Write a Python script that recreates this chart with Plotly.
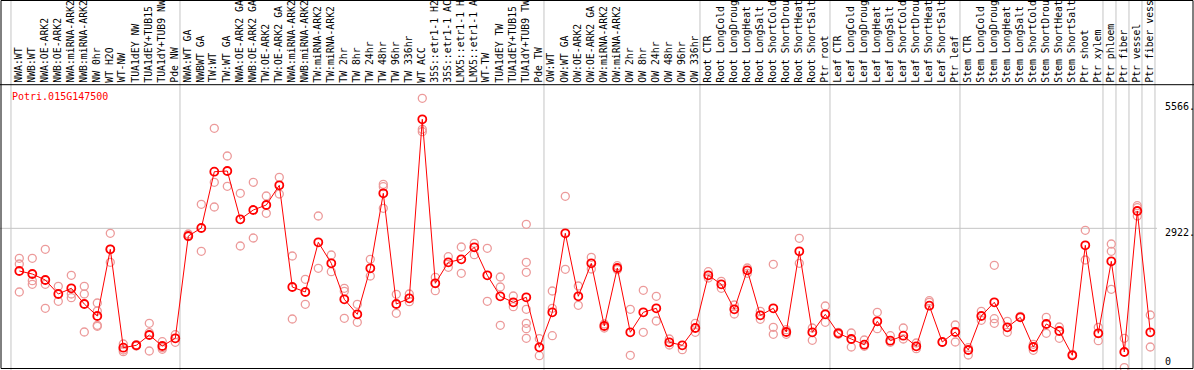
import plotly.graph_objects as go

title = "Potri.015G147500"

labels = [
    "NWA:WT", "NWB:WT", "NWA:OE-ARK2", "NWB:OE-ARK2", "NWA:miRNA-ARK2", "NWB:miRNA-ARK2",
    "NW 0hr", "WT H2O", "WT-NW", "TUA1dEY NW", "TUA1dEY+TUB15 NW", "TUA1dY+TUB9 NW", "Pde NW",
    "NWA:WT GA", "NWBWT GA", "TW:WT", "TW:WT GA", "NWA:OE-ARK2 GA", "NWB:OE-ARK2 GA",
    "TW:OE-ARK2", "TW:OE-ARK2 GA", "NWA:miRNA-ARK2", "NWB:miRNA-ARK2", "TW:miRNA-ARK2",
    "TW:miRNA-ARK2", "TW 2hr", "TW 8hr", "TW 24hr", "TW 48hr", "TW 96hr", "TW 336hr", "WT ACC",
    "35S::etr1-1 H2O", "35S::etr1-1 ACC", "LMX5::etr1-1 H2O", "LMX5::etr1-1 ACC", "WT-TW",
    "TUA1dEY TW", "TUA1dEY+TUB15 TW", "TUA1dY+TUB9 TW", "Pde TW",
    "OW:WT", "OW:WT GA", "OW:OE-ARK2", "OW:OE-ARK2 GA", "OW:miRNA-ARK2", "OW:miRNA-ARK2",
    "OW 2hr", "OW 8hr", "OW 24hr", "OW 48hr", "OW 96hr", "OW 336hr",
    "Root CTR", "Root LongCold", "Root LongDrought", "Root LongHeat", "Root LongSalt",
    "Root ShortCold", "Root ShortDrought", "Root ShortHeat", "Root ShortSalt", "Ptr root",
    "Leaf CTR", "Leaf LongCold", "Leaf LongDrought", "Leaf LongHeat", "Leaf LongSalt",
    "Leaf ShortCold", "Leaf ShortDrought", "Leaf ShortHeat", "Leaf ShortSalt", "Ptr leaf",
    "Stem CTR", "Stem LongCold", "Stem LongDrought", "Stem LongHeat", "Stem LongSalt",
    "Stem ShortCold", "Stem ShortDrought", "Stem ShortHeat", "Stem ShortSalt", "Ptr shoot",
    "Ptr xylem", "Ptr phloem", "Ptr fiber", "Ptr vessel", "Ptr fiber vessel",
]

group_breaks = [0, 13, 41, 53, 63, 73, 84, 85, 86, 87, 88]

means = [
    2027, 1964, 1838, 1544, 1664, 1334, 1083, 2482, 418, 468, 684, 453, 615,
    2761, 2929, 4110, 4125, 3112, 3307, 3412, 3825, 1691, 1586, 2629, 2188, 1433, 1118,
    2084, 3657, 1334, 1454, 5210, 1769, 2209, 2272, 2524, 1937, 1496, 1370, 1475, 426,
    1160, 2818, 1496, 2188, 873, 2090, 741, 1160, 1244, 531, 468, 831,
    1937, 1748, 1223, 2042, 1097, 1244, 747, 2440, 741, 1118,
    720, 600, 480, 971, 564, 669, 447, 1299, 537, 747,
    369, 1083, 1370, 846, 1055, 432, 915, 768, 258, 2566, 720,
    2230, 327, 3286, 741,
]

reps = [
    [2293, 2174, 1586], [2293, 1823, 1748], [2482, 1748, 1244], [1706, 1391],
    [1937, 1544, 1467], [1706, 1544, 747], [1355, 1188, 888, 867], [2818, 2482, 2209],
    [495, 369, 334], [480, 453], [929, 732, 348], [543, 418, 384], [690, 531],
    [2803, 2747], [3426, 2440], [5021, 3888, 3370], [4440, 3804], [3657, 2551],
    [3888, 2719], [3600, 3237], [3993, 3642], [2342, 1020], [1853, 1328], [3181, 2084],
    [2363, 2012], [1664, 1601, 1034], [1328, 950], [2272, 1922], [3846, 3796, 3342],
    [1538, 1139], [1544, 1383], [5650, 5000, 4950], [1895, 1614], [2327, 2104],
    [2530, 1979], [2608, 2369], [2503, 1391], [1901, 1691, 888], [1502, 1278],
    [3007, 2209, 2000, 1223, 929, 816, 615], [606, 250],
    [1607, 1244, 669], [3594, 2063], [1712, 1307], [2314, 2069], [915, 831],
    [2138, 2054], [1223, 258], [1622, 741], [1496, 978], [600, 474], [376], [929, 741],
    [2012, 1880], [1811, 1664], [1313, 1125], [2090, 1979], [1181, 1013],
    [2167, 846, 699], [795, 699], [2713, 2188], [831, 573], [1292, 950],
    [741, 699], [726, 432], [579, 447], [1160, 816], [669, 531], [831, 600], [516, 397],
    [1404, 1370], [531], [894, 537],
    [418, 264], [1181, 992], [2146, 1026, 929], [971, 741], [1076], [489, 363],
    [1055, 720], [852, 615], [279], [2881, 2258], [846, 564],
    [2593, 2440, 1643], [615, 0], [3397, 3355, 3181], [1104, 432],
]

tick_vals = [5566, 2922, 0]
tick_text = ["5566.", "2922.", "0"]

W, H = 1194, 370
MONO = "DejaVu Sans Mono"
MEAN_COLOR = "#ff0000"
REP_COLOR = "#ec9a9a"
MAX_LABEL_CHARS = 14  # the header band only has room for this many characters

xs = list(range(len(means)))
rep_x = [i for i, r in enumerate(reps) for _ in r]
rep_y = [v for r in reps for v in r]

fig = go.Figure()
fig.add_trace(go.Scatter(
    x=rep_x, y=rep_y, mode="markers",
    marker=dict(symbol="circle-open", size=8, color=REP_COLOR, line=dict(width=1.3, color=REP_COLOR)),
    hoverinfo="skip", showlegend=False,
))
fig.add_trace(go.Scatter(
    x=xs, y=means, mode="lines+markers",
    line=dict(color=MEAN_COLOR, width=1),
    marker=dict(symbol="circle-open", size=8, color=MEAN_COLOR, line=dict(width=1.8, color=MEAN_COLOR)),
    showlegend=False,
))

# pixel <-> data mapping helpers
px_per_col = 13.0
x_first_px = 19.3
xa = -x_first_px / px_per_col
xb = xa + W / px_per_col
y_zero_px = 367.6
px_per_unit = 0.04766
ya = (y_zero_px - H) / px_per_unit
yb = y_zero_px / px_per_unit

shapes = []
for b in group_breaks:
    shapes.append(dict(type="line", xref="x", yref="paper", x0=b - 0.64, x1=b - 0.64, y0=0, y1=1,
                       line=dict(color="#c4c4c4", width=1), layer="below"))
shapes.append(dict(type="line", xref="paper", yref="y", x0=0, x1=1157 / W, y0=tick_vals[1], y1=tick_vals[1],
                   line=dict(color="#c4c4c4", width=1), layer="below"))
label_line_y = 1 - 84.7 / H
shapes.append(dict(type="line", xref="paper", yref="paper", x0=0, x1=1, y0=label_line_y, y1=label_line_y,
                   line=dict(color="black", width=1)))
shapes.append(dict(type="rect", xref="paper", yref="paper", x0=1.0 / W, x1=1 - 1.0 / W,
                   y0=1 - 368.5 / H, y1=1 - 0.5 / H, line=dict(color="black", width=1)))

annotations = []
for i, lab in enumerate(labels):
    annotations.append(dict(x=i - 0.12, y=1 - 83.5 / H, xref="x", yref="paper",
                            text=lab[:MAX_LABEL_CHARS].rstrip(),
                            textangle=-90, xanchor="center", yanchor="bottom", showarrow=False,
                            font=dict(family=MONO, size=9.8, color="black"), borderpad=0))
annotations.append(dict(x=10 / W, y=1 - 96.7 / H, xref="paper", yref="paper", text=title,
                        xanchor="left", yanchor="middle", showarrow=False,
                        font=dict(family=MONO, size=10, color="red")))
shifts = [-4.4, -4.4, 6]
for v, t, s in zip(tick_vals, tick_text, shifts):
    annotations.append(dict(x=1163 / W, y=v, xref="paper", yref="y", yshift=s, text=t,
                            xanchor="left", yanchor="middle", showarrow=False,
                            font=dict(family=MONO, size=10, color="black")))

fig.update_layout(
    width=W, height=H, margin=dict(l=0, r=0, t=0, b=0, pad=0),
    paper_bgcolor="white", plot_bgcolor="white",
    xaxis=dict(range=[xa, xb], visible=False, showgrid=False, zeroline=False, fixedrange=True),
    yaxis=dict(range=[ya, yb], visible=False, showgrid=False, zeroline=False, fixedrange=True),
    shapes=shapes, annotations=annotations, showlegend=False,
)

fig.write_html("out.html", config={"displayModeBar": False},
               post_script="document.body.style.margin='0';document.body.style.overflow='hidden';")
